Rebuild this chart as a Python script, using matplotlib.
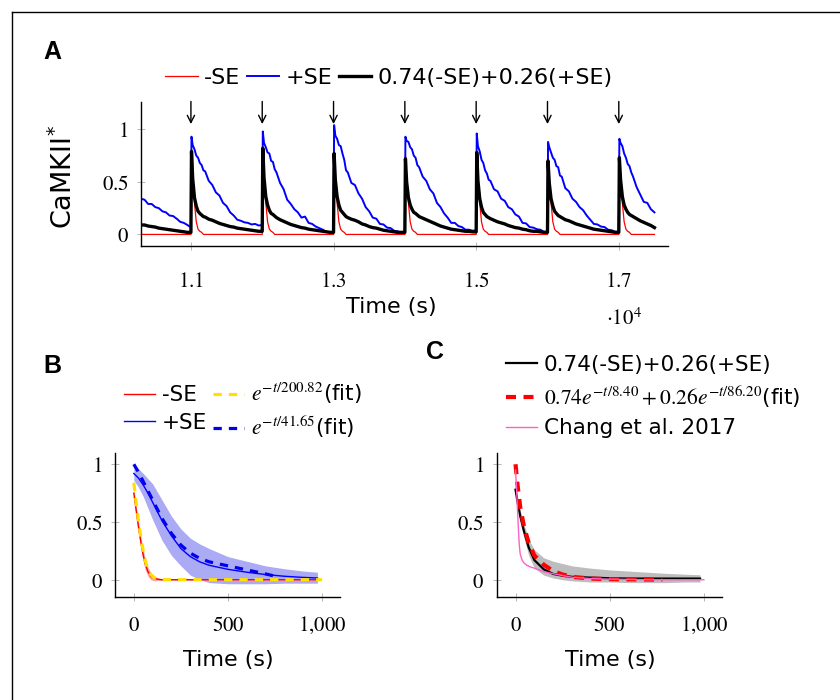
import matplotlib
matplotlib.use('Agg')
import matplotlib.pyplot as plt
from matplotlib.lines import Line2D
from matplotlib.font_manager import FontProperties
import numpy as np

# ---------------- Panel A data ----------------
cycle_starts = [11000, 12000, 13000, 14000, 15000, 16000, 17000]
rel_t = [0, 8, 25, 50, 75, 100, 125, 150, 175, 200, 250, 300, 350, 400, 450,
         500, 550, 600, 650, 700, 750, 800, 850, 900, 950, 995]
pre_t = [10300, 10350, 10400, 10450, 10500, 10550, 10600, 10650, 10700,
         10750, 10800, 10850, 10900, 10950, 10995]
pre_blue = [0.34, 0.33, 0.29, 0.29, 0.26, 0.25, 0.22, 0.21, 0.18, 0.175,
            0.15, 0.12, 0.11, 0.09, 0.07]
pre_black = [0.09, 0.09, 0.08, 0.075, 0.07, 0.06, 0.055, 0.05, 0.045, 0.04,
             0.035, 0.03, 0.025, 0.02, 0.02]
pre_red = [0.0] * 15

blue_c1 = [0.07, 0.93, 0.85, 0.81, 0.75, 0.73, 0.68, 0.66, 0.61, 0.60, 0.51, 0.47, 0.40,
           0.37, 0.30, 0.27, 0.21, 0.18, 0.14, 0.13, 0.115, 0.11, 0.095, 0.10, 0.085, 0.09]
blue_c2 = [0.09, 0.98, 0.87, 0.83, 0.78, 0.77, 0.70, 0.69, 0.62, 0.59, 0.49, 0.43, 0.33,
           0.29, 0.24, 0.21, 0.16, 0.17, 0.11, 0.10, 0.075, 0.06, 0.045, 0.025, 0.02, 0.02]
blue_c3 = [0.02, 1.04, 0.94, 0.91, 0.85, 0.84, 0.77, 0.71, 0.61, 0.59, 0.49, 0.47, 0.39,
           0.34, 0.26, 0.22, 0.16, 0.15, 0.10, 0.095, 0.065, 0.06, 0.035, 0.03, 0.015, 0.02]
blue_c4 = [0.02, 0.93, 0.89, 0.88, 0.83, 0.81, 0.75, 0.73, 0.66, 0.64, 0.55, 0.51, 0.43,
           0.39, 0.30, 0.26, 0.20, 0.16, 0.11, 0.11, 0.08, 0.07, 0.045, 0.045, 0.035, 0.04]
blue_c5 = [0.04, 0.96, 0.84, 0.79, 0.71, 0.68, 0.61, 0.58, 0.52, 0.51, 0.43, 0.41, 0.34,
           0.32, 0.26, 0.24, 0.19, 0.17, 0.11, 0.105, 0.07, 0.065, 0.05, 0.045, 0.025, 0.025]
blue_c6 = [0.025, 0.88, 0.83, 0.78, 0.73, 0.71, 0.65, 0.64, 0.56, 0.55, 0.44, 0.41, 0.34,
           0.31, 0.26, 0.23, 0.18, 0.14, 0.10, 0.095, 0.075, 0.07, 0.045, 0.04, 0.025, 0.025]
blue_c7 = [0.025, 0.91, 0.87, 0.84, 0.77, 0.73, 0.67, 0.65, 0.59, 0.55, 0.45, 0.38, 0.31,
           0.30, 0.24, 0.21]

black_c1 = [0.02, 0.79, 0.53, 0.35, 0.27, 0.22, 0.20, 0.185, 0.17, 0.165, 0.145, 0.135, 0.12,
            0.105, 0.095, 0.085, 0.075, 0.07, 0.06, 0.055, 0.05, 0.045, 0.04, 0.035, 0.03, 0.03]
black_c2 = [0.03, 0.82, 0.54, 0.36, 0.28, 0.23, 0.20, 0.19, 0.175, 0.16, 0.14, 0.125, 0.11,
            0.095, 0.085, 0.075, 0.065, 0.06, 0.05, 0.045, 0.04, 0.035, 0.03, 0.025, 0.02, 0.02]
black_c3 = [0.02, 0.77, 0.52, 0.36, 0.28, 0.23, 0.21, 0.19, 0.17, 0.16, 0.145, 0.135, 0.12,
            0.10, 0.09, 0.075, 0.065, 0.06, 0.05, 0.04, 0.035, 0.03, 0.025, 0.02, 0.02, 0.02]
black_c4 = [0.02, 0.72, 0.50, 0.35, 0.28, 0.24, 0.21, 0.20, 0.185, 0.17, 0.155, 0.14, 0.125,
            0.11, 0.095, 0.08, 0.07, 0.06, 0.05, 0.045, 0.04, 0.035, 0.03, 0.03, 0.025, 0.025]
black_c5 = [0.025, 0.78, 0.51, 0.34, 0.26, 0.21, 0.19, 0.17, 0.16, 0.15, 0.135, 0.12, 0.11,
            0.10, 0.085, 0.075, 0.065, 0.06, 0.05, 0.045, 0.035, 0.03, 0.03, 0.025, 0.02, 0.02]
black_c6 = [0.02, 0.70, 0.49, 0.34, 0.27, 0.22, 0.20, 0.18, 0.17, 0.16, 0.14, 0.13, 0.115,
            0.10, 0.09, 0.08, 0.07, 0.06, 0.05, 0.045, 0.04, 0.035, 0.03, 0.025, 0.02, 0.02]
black_c7 = [0.02, 0.73, 0.52, 0.36, 0.28, 0.24, 0.21, 0.19, 0.18, 0.17, 0.15, 0.13, 0.115,
            0.10, 0.085, 0.065]

red_pulse = [0.0, 0.75, 0.55, 0.30, 0.12, 0.05, 0.03, 0.02, 0.0, 0.0, 0.0, 0.0, 0.0,
             0.0, 0.0, 0.0, 0.0, 0.0, 0.0, 0.0, 0.0, 0.0, 0.0, 0.0, 0.0, 0.0]

blue_cycles = [blue_c1, blue_c2, blue_c3, blue_c4, blue_c5, blue_c6, blue_c7]
black_cycles = [black_c1, black_c2, black_c3, black_c4, black_c5, black_c6, black_c7]

# ---------------- Panel B data ----------------
tB_red = [0, 10, 20, 30, 40, 50, 60, 75, 90, 110, 130, 150, 200, 300, 400, 500, 600, 700, 800, 900, 980]
red_mean = [0.75, 0.63, 0.51, 0.40, 0.30, 0.21, 0.14, 0.07, 0.03, 0.01, 0.004, 0.0, 0.0,
            0.0, 0.0, 0.0, 0.0, 0.0, 0.0, 0.0, 0.0]
red_hi = [0.79, 0.68, 0.56, 0.45, 0.35, 0.26, 0.19, 0.11, 0.06, 0.03, 0.014, 0.006, 0.004,
          0.004, 0.004, 0.004, 0.004, 0.004, 0.004, 0.004, 0.004]
red_lo = [0.71, 0.58, 0.46, 0.35, 0.25, 0.16, 0.09, 0.03, 0.0, -0.01, -0.006, -0.005, -0.004,
          -0.004, -0.004, -0.004, -0.004, -0.004, -0.004, -0.004, -0.004]
tB_yfit = [0, 10, 20, 30, 40, 50, 60, 75, 90, 110, 130, 150, 200, 1000]
yellow_fit = [0.84, 0.70, 0.57, 0.45, 0.34, 0.25, 0.17, 0.09, 0.045, 0.015, 0.005, 0.0, 0.0, 0.0]

tB_blue = [0, 25, 50, 75, 100, 150, 200, 250, 300, 350, 400, 500, 600, 700, 800, 900, 975]
blue_mean = [0.92, 0.88, 0.82, 0.75, 0.67, 0.51, 0.38, 0.27, 0.20, 0.155, 0.125, 0.09, 0.065,
             0.045, 0.03, 0.02, 0.015]
blue_hi = [1.0, 0.96, 0.92, 0.875, 0.83, 0.69, 0.55, 0.44, 0.36, 0.31, 0.27, 0.20, 0.16,
           0.12, 0.095, 0.075, 0.065]
blue_lo = [0.86, 0.80, 0.72, 0.62, 0.52, 0.34, 0.21, 0.12, 0.04, 0.0, -0.025, -0.035,
           -0.035, -0.035, -0.03, -0.03, -0.03]
tB_bfit = [0, 25, 50, 75, 100, 150, 200, 250, 300, 350, 400, 500, 600, 700, 765]
blue_fit = [1.0, 0.93, 0.85, 0.77, 0.69, 0.53, 0.40, 0.30, 0.23, 0.185, 0.155, 0.12, 0.085, 0.05, 0.025]

# ---------------- Panel C data ----------------
tC = [0, 10, 25, 45, 70, 100, 150, 200, 250, 300, 400, 500, 600, 700, 800, 900, 980]
comb_mean = [0.78, 0.68, 0.55, 0.42, 0.28, 0.17, 0.09, 0.05, 0.035, 0.025, 0.018, 0.013,
             0.01, 0.01, 0.01, 0.01, 0.01]
comb_hi = [0.80, 0.72, 0.60, 0.48, 0.35, 0.26, 0.19, 0.16, 0.14, 0.12, 0.10, 0.085, 0.075,
           0.065, 0.055, 0.048, 0.043]
comb_lo = [0.76, 0.64, 0.50, 0.36, 0.21, 0.10, 0.04, 0.015, 0.0, -0.01, -0.02, -0.02,
           -0.025, -0.025, -0.025, -0.02, -0.02]
tC_fit = [0, 10, 25, 45, 70, 100, 150, 200, 250, 300, 400, 500, 600, 700, 780]
comb_fit = [1.0, 0.83, 0.63, 0.46, 0.32, 0.21, 0.13, 0.075, 0.045, 0.025, 0.01, 0.005, 0.003, 0.002, 0.001]
tC_chang = [0, 5, 10, 15, 20, 25, 35, 45, 60, 80, 100, 150, 220, 300, 400, 500, 700, 1000]
chang = [0.95, 0.80, 0.62, 0.45, 0.30, 0.22, 0.17, 0.145, 0.125, 0.11, 0.10, 0.07, 0.045,
         0.022, 0.01, 0.005, 0.0, 0.0]

xticks_A = [11000, 13000, 15000, 17000]
xticklabels_A = ['$1.1$', '$1.3$', '$1.5$', '$1.7$']
yticks = [0, 0.5, 1]
yticklabels = ['$0$', '$0.5$', '$1$']
xticks_BC = [0, 500, 1000]
xticklabels_BC = ['$0$', '$500$', '$1{,}000$']

# ---------------- Figure ----------------
W, H = 840, 700
SANS = ['DejaVu Sans']
plt.rcParams['font.family'] = SANS
plt.rcParams['mathtext.fontset'] = 'stix'
fig = plt.figure(figsize=(8.4, 7.0), dpi=100)
FS = 15.5


def fx(px):
    return px / W


def fy(py):
    return 1 - py / H


def axes_px(l, t, r, b):
    return fig.add_axes([fx(l), fy(b), (r - l) / W, (b - t) / H])


def style(ax, xpad):
    for s in ['top', 'right']:
        ax.spines[s].set_visible(False)
    for s in ['left', 'bottom']:
        ax.spines[s].set_linewidth(1.0)
    ax.tick_params(direction='inout', length=6, width=0.6, color='#aaaaaa', labelsize=15)
    ax.tick_params(axis='x', pad=xpad)
    ax.tick_params(axis='y', pad=6)
    ax.set_yticks(yticks)
    ax.set_yticklabels(yticklabels)


# frame
fig.add_artist(Line2D([fx(11.5), fx(840)], [fy(11.5), fy(11.5)], color='black', lw=1.0))
fig.add_artist(Line2D([fx(11.5), fx(11.5)], [fy(11.5), fy(700)], color='black', lw=1.0))

# ---- Panel A ----
axA = axes_px(141, 102, 668, 246)
tA = list(pre_t)
bA = list(pre_blue)
kA = list(pre_black)
rA = list(pre_red)
for s, bc, kc in zip(cycle_starts, blue_cycles, black_cycles):
    n = len(bc)
    tA += [s + r for r in rel_t[:n]]
    bA += bc
    kA += kc
    rA += red_pulse[:n]
axA.plot(tA, rA, color='red', lw=0.9, label='-SE')
axA.plot(tA, bA, color='blue', lw=1.4, label='+SE')
axA.plot(tA, kA, color='black', lw=2.4, label='0.74(-SE)+0.26(+SE)')
for s in cycle_starts:
    axA.annotate('', xy=(s, 1.05), xytext=(s, 1.265),
                 arrowprops=dict(arrowstyle='->', lw=1.0, color='black', mutation_scale=13,
                                 shrinkA=0, shrinkB=0),
                 annotation_clip=False)
axA.set_xlim(10300, 17690)
axA.set_ylim(-0.11, 1.26)
style(axA, 15)
axA.set_xticks(xticks_A)
axA.set_xticklabels(xticklabels_A)
fig.text(fx(391), fy(307), 'Time (s)', ha='center', va='center', fontsize=16)
fig.text(fx(624), fy(318), r'$\cdot10^{4}$', ha='center', va='center', fontsize=15)
fig.text(fx(64), fy(177), r'CaMKII$^{*}$', ha='center', va='center', fontsize=19.5,
         rotation=90, math_fontfamily='dejavusans')
fig.legend(handles=axA.get_lines(), loc='center', bbox_to_anchor=(fx(389), fy(78)),
           ncol=3, frameon=False, fontsize=16, handlelength=1.45, handletextpad=0.3,
           columnspacing=0.28, borderpad=0, borderaxespad=0)

# ---- Panel B ----
axB = axes_px(115, 452.7, 340, 596.7)
axB.fill_between(tB_blue, blue_lo, blue_hi, color='#aaaaf5', lw=0)
axB.fill_between(tB_red, red_lo, red_hi, color='#f6a8a8', lw=0)
lr, = axB.plot(tB_red, red_mean, color='red', lw=1.0)
lb, = axB.plot(tB_blue, blue_mean, color='blue', lw=1.0)
ly, = axB.plot(tB_yfit, yellow_fit, color='#ffe000', lw=2.3, dashes=(2.6, 2.2))
lbf, = axB.plot(tB_bfit, blue_fit, color='#0000ee', lw=2.3, dashes=(2.6, 2.2))
axB.set_xlim(-100, 1095)
axB.set_ylim(-0.147, 1.10)
style(axB, 10)
axB.set_xticks(xticks_BC)
axB.set_xticklabels(xticklabels_BC)
fig.text(fx(228), fy(660), 'Time (s)', ha='center', va='center', fontsize=16)
legfp = FontProperties(family=SANS, size=FS, math_fontfamily='stix')
fig.legend(handles=[lr, lb, ly, lbf],
           labels=['-SE', '+SE', r'$e^{-t/200.82}$(fit)', r'$e^{-t/41.65}$(fit)'],
           loc='center left', bbox_to_anchor=(fx(124), fy(410.5)), ncol=2, frameon=False,
           prop=legfp, handlelength=1.45, handletextpad=0.3, columnspacing=0.28,
           labelspacing=0.35, borderpad=0, borderaxespad=0)

# ---- Panel C ----
axC = axes_px(496.7, 452.7, 721.7, 596.7)
axC.fill_between(tC, comb_lo, comb_hi, color='#bdbdbd', lw=0)
lk, = axC.plot(tC, comb_mean, color='black', lw=1.6)
lf, = axC.plot(tC_fit, comb_fit, color='#ff0000', lw=3.0, dashes=(2.4, 1.8))
lp, = axC.plot(tC_chang, chang, color='#ff5fc8', lw=1.0)
axC.set_xlim(-100, 1095)
axC.set_ylim(-0.147, 1.10)
style(axC, 10)
axC.set_xticks(xticks_BC)
axC.set_xticklabels(xticklabels_BC)
fig.text(fx(610), fy(660), 'Time (s)', ha='center', va='center', fontsize=16)
fig.legend(handles=[lk, lf, lp],
           labels=['0.74(-SE)+0.26(+SE)', r'$0.74e^{-t/8.40}+0.26e^{-t/86.20}$(fit)',
                   'Chang et al. 2017'],
           loc='center left', bbox_to_anchor=(fx(506), fy(396.5)), ncol=1, frameon=False,
           prop=legfp, handlelength=1.45, handletextpad=0.3, labelspacing=0.4,
           borderpad=0, borderaxespad=0)

# panel letters
for txt, x, y in [('A', 52, 52), ('B', 52.5, 366), ('C', 434.5, 352)]:
    fig.text(fx(x), fy(y), txt, ha='center', va='center', fontsize=18,
             fontweight='bold', family='Liberation Sans')

fig.savefig('out.png', dpi=100)
